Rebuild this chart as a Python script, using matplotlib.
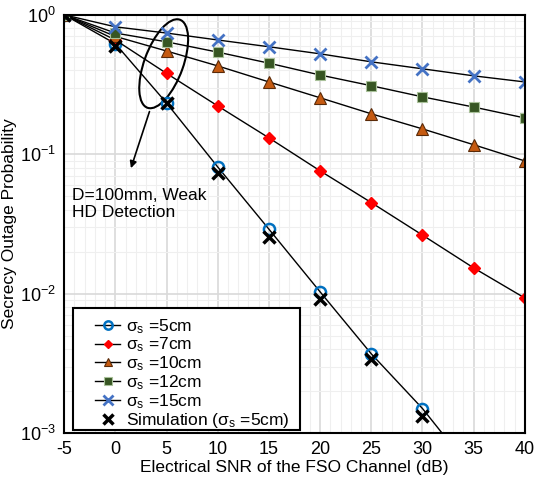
import numpy as np
import matplotlib.pyplot as plt
from matplotlib.patches import Ellipse, Rectangle
from matplotlib.ticker import MultipleLocator, LogLocator, FixedLocator, NullFormatter

plt.rcParams['font.family'] = ['Liberation Sans', 'DejaVu Sans']
plt.rcParams['axes.unicode_minus'] = False

snr = [-5, 0, 5, 10, 15, 20, 25, 30, 35, 40]

# analytical curves
p_5cm = [1.0, 0.62, 0.233, 0.081, 0.029, 0.0103, 0.0037, 0.0015, 0.00052, 0.00018]
p_7cm = [1.0, 0.66, 0.38, 0.222, 0.131, 0.076, 0.045, 0.0263, 0.0153, 0.0093]
p_10cm = [1.0, 0.70, 0.55, 0.43, 0.33, 0.254, 0.195, 0.152, 0.117, 0.0895]
p_12cm = [1.0, 0.74, 0.64, 0.54, 0.45, 0.37, 0.31, 0.258, 0.218, 0.182]
p_15cm = [1.0, 0.82, 0.74, 0.66, 0.59, 0.525, 0.46, 0.41, 0.365, 0.33]

# simulation for sigma_s = 5cm
snr_sim = [-5, 0, 5, 10, 15, 20, 25, 30]
p_sim = [1.0, 0.60, 0.233, 0.073, 0.0255, 0.0092, 0.0034, 0.00133]

y_ticks = [1e-3, 1e-2, 1e-1, 1e0]
y_ticklabels = [r'$\mathregular{10^{-3}}$', r'$\mathregular{10^{-2}}$',
                r'$\mathregular{10^{-1}}$', r'$\mathregular{10^{0}}$']

fig = plt.figure(figsize=(5.35, 4.78), dpi=100)
ax = fig.add_axes([0.12, 0.094, 0.861, 0.875])

ax.plot(snr, p_5cm, color='black', lw=1, marker='o', ms=8, mfc='none',
        mec='#0070C0', mew=1.8, label=r'$\mathregular{\sigma_s}$ =5cm')
ax.plot(snr, p_7cm, color='black', lw=1, marker='D', ms=6, mfc='#FF0000',
        mec='#FF0000', label=r'$\mathregular{\sigma_s}$ =7cm')
ax.plot(snr, p_10cm, color='black', lw=1, marker='^', ms=8, mfc='#C55A11',
        mec='#5a2a08', mew=0.8, label=r'$\mathregular{\sigma_s}$ =10cm')
ax.plot(snr, p_12cm, color='black', lw=1, marker='s', ms=7.5, mfc='#375623',
        mec='#a9c19a', mew=0.8, label=r'$\mathregular{\sigma_s}$ =12cm')
ax.plot(snr, p_15cm, color='black', lw=1, marker='x', ms=9, mec='#4472C4',
        mew=2, label=r'$\mathregular{\sigma_s}$ =15cm')
ax.plot(snr_sim, p_sim, ls='none', marker='x', ms=9, mec='black', mew=2.5,
        label=r'Simulation ($\mathregular{\sigma_s}$ =5cm)')

ax.set_yscale('log')
ax.set_xlim(-5, 40)
ax.set_ylim(1e-3, 1)
ax.xaxis.set_major_locator(MultipleLocator(5))
ax.xaxis.set_minor_locator(MultipleLocator(1))
ax.yaxis.set_major_locator(FixedLocator(y_ticks))
ax.set_yticklabels(y_ticklabels)
ax.yaxis.set_minor_locator(LogLocator(base=10, subs=np.arange(2, 10)))
ax.yaxis.set_minor_formatter(NullFormatter())
ax.grid(which='major', color='#d9d9d9', lw=1.2)
ax.grid(which='minor', color='#efefef', lw=0.8)
ax.set_axisbelow(True)
ax.tick_params(which='both', length=0, labelsize=13, pad=6)
for s in ax.spines.values():
    s.set_linewidth(1.5)
    s.set_color('black')

ax.set_xlabel('Electrical SNR of the FSO Channel (dB)', fontsize=12.5, labelpad=1)
ax.set_ylabel('Secrecy Outage Probability', fontsize=12.5, labelpad=2)

# annotation: ellipse around the 5 dB points plus arrow to the label
ell = Ellipse((0.216, 0.883), width=0.085, height=0.222, angle=-18,
              transform=ax.transAxes, fill=False, lw=1.5, ec='black')
ax.add_patch(ell)
ax.annotate('', xy=(0.143, 0.627), xytext=(0.187, 0.775), xycoords='axes fraction',
            arrowprops=dict(arrowstyle='-|>', color='black', lw=1.2, mutation_scale=10))
ax.text(0.018, 0.585, 'D=100mm, Weak\nHD Detection', transform=ax.transAxes,
        fontsize=12.5, va='top', ha='left', linespacing=1.15)

# legend box drawn separately to match its wide frame
ax.add_patch(Rectangle((0.0195, 0.007), 0.492, 0.292, transform=ax.transAxes,
                       fill=True, fc='white', ec='black', lw=1.5, zorder=4))
leg = ax.legend(loc='lower left', bbox_to_anchor=(0.06, 0.0), fontsize=12.5,
                frameon=False, handlelength=1.45, handletextpad=0.3,
                labelspacing=0.0, borderpad=0.2, borderaxespad=0,
                markerscale=0.75)
leg.set_zorder(5)

fig.savefig('out.png', dpi=100)
